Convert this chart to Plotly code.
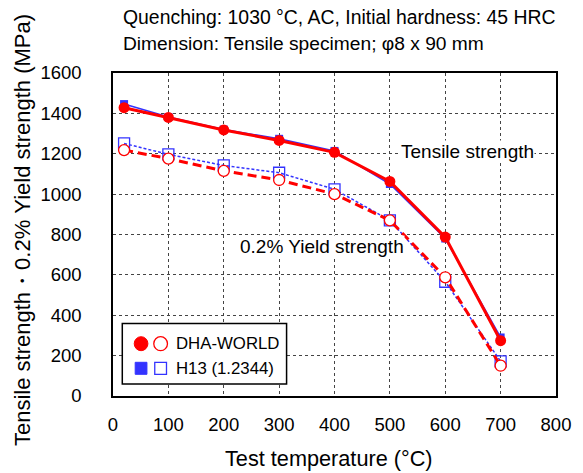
import plotly.graph_objects as go

temps = [20, 100, 200, 300, 400, 500, 600, 700]
dha_tensile = [1428, 1380, 1318, 1266, 1207, 1063, 787, 274]
h13_tensile = [1446, 1382, 1320, 1274, 1214, 1050, 780, 290]
dha_yield = [1218, 1176, 1115, 1070, 1000, 870, 588, 150]
h13_yield = [1251, 1197, 1142, 1106, 1024, 870, 566, 172]

x_ticks = [0, 100, 200, 300, 400, 500, 600, 700, 800]
y_ticks = [0, 200, 400, 600, 800, 1000, 1200, 1400, 1600]

RED = "#FF0000"
BLUE = "#3333FF"
FONT = "Liberation Sans, Arial, sans-serif"

fig = go.Figure()

fig.add_trace(go.Scatter(x=temps, y=h13_yield, mode="lines+markers",
                         line=dict(color=BLUE, width=1.5, dash="3px,2px"),
                         marker=dict(symbol="square-open", size=11, color=BLUE, line=dict(width=1.3)),
                         showlegend=False))
fig.add_trace(go.Scatter(x=temps, y=dha_yield, mode="lines+markers",
                         line=dict(color=RED, width=3, dash="9px,5px"),
                         marker=dict(symbol="circle", size=11, color="white", line=dict(color=RED, width=1.3)),
                         showlegend=False))
fig.add_trace(go.Scatter(x=temps, y=h13_tensile, mode="lines+markers",
                         line=dict(color=BLUE, width=1.5),
                         marker=dict(symbol="square", size=8, color=BLUE),
                         showlegend=False))
fig.add_trace(go.Scatter(x=temps, y=dha_tensile, mode="lines+markers",
                         line=dict(color=RED, width=3),
                         marker=dict(symbol="circle", size=11, color=RED),
                         showlegend=False))

W, H = 583, 473
ML, MR, MT, MB = 113, 17, 73, 77
PW, PH = W - ML - MR, H - MT - MB


def px(x):
    return (x - ML) / PW


def py(y):
    return (H - MB - y) / PH


shapes = []
# legend box
shapes.append(dict(type="rect", xref="paper", yref="paper",
                   x0=px(122.5), x1=px(290.5), y0=py(384), y1=py(323.5),
                   line=dict(color="black", width=1.5), fillcolor="white", layer="above"))
# legend markers
r = 7
shapes.append(dict(type="circle", xref="paper", yref="paper",
                   x0=px(141.7 - r), x1=px(141.7 + r), y0=py(343.7 + r), y1=py(343.7 - r),
                   line=dict(color=RED, width=1), fillcolor=RED, layer="above"))
shapes.append(dict(type="circle", xref="paper", yref="paper",
                   x0=px(161.7 - r), x1=px(161.7 + r), y0=py(343.7 + r), y1=py(343.7 - r),
                   line=dict(color=RED, width=1.3), fillcolor="white", layer="above"))
s = 6
shapes.append(dict(type="rect", xref="paper", yref="paper",
                   x0=px(141.7 - s), x1=px(141.7 + s), y0=py(368.3 + s), y1=py(368.3 - s),
                   line=dict(color=BLUE, width=1), fillcolor=BLUE, layer="above"))
shapes.append(dict(type="rect", xref="paper", yref="paper",
                   x0=px(161.7 - s), x1=px(161.7 + s), y0=py(368.3 + s), y1=py(368.3 - s),
                   line=dict(color=BLUE, width=1.3), fillcolor="white", layer="above"))

annotations = [
    dict(text="Quenching: 1030 °C, AC, Initial hardness: 45 HRC", xref="paper", yref="paper",
         x=px(121), y=py(17), xanchor="left", yanchor="middle", showarrow=False,
         font=dict(size=19.4, color="black", family=FONT)),
    dict(text="Dimension: Tensile specimen; φ8 x 90 mm", xref="paper", yref="paper",
         x=px(121), y=py(43), xanchor="left", yanchor="middle", showarrow=False,
         font=dict(size=19.2, color="black", family=FONT)),
    dict(text="Tensile strength", x=640, y=1213, xref="x", yref="y", showarrow=False,
         font=dict(size=19, color="black", family=FONT), bgcolor="white", borderpad=0),
    dict(text="0.2% Yield strength", x=377, y=739, xref="x", yref="y", showarrow=False,
         font=dict(size=19, color="black", family=FONT), bgcolor="white", borderpad=0),
    dict(text="DHA-WORLD", xref="paper", yref="paper", x=px(175), y=py(343.7),
         xanchor="left", yanchor="middle", showarrow=False,
         font=dict(size=16.8, color="black", family=FONT)),
    dict(text="H13 (1.2344)", xref="paper", yref="paper", x=px(175), y=py(368.3),
         xanchor="left", yanchor="middle", showarrow=False,
         font=dict(size=16.8, color="black", family=FONT)),
    dict(text="Test temperature (°C)", xref="paper", yref="paper", x=px(334), y=py(458),
         xanchor="center", yanchor="middle", showarrow=False,
         font=dict(size=21.7, color="black", family=FONT)),
    dict(text="Tensile strength・0.2% Yield strength (MPa)", xref="paper", yref="paper",
         x=px(21), y=py(230), xanchor="center", yanchor="middle", showarrow=False, textangle=-90,
         font=dict(size=22, color="black", family=FONT)),
]

fig.update_layout(
    width=W, height=H,
    margin=dict(l=ML, r=MR, t=MT, b=MB),
    paper_bgcolor="white", plot_bgcolor="white",
    font=dict(family=FONT, size=18.5, color="black"),
    shapes=shapes, annotations=annotations,
    showlegend=False,
)
fig.update_xaxes(range=[0, 800], tickvals=x_ticks, ticktext=[str(v) for v in x_ticks],
                 showgrid=True, gridcolor="#444444", griddash="dot", gridwidth=1,
                 showline=True, linecolor="black", linewidth=1.5, mirror=True,
                 ticks="", ticklabelstandoff=11, zeroline=False,
                 tickfont=dict(size=18.5, family=FONT, color="black"))
fig.update_yaxes(range=[0, 1600], tickvals=y_ticks, ticktext=[str(v) for v in y_ticks],
                 showgrid=True, gridcolor="#444444", griddash="dot", gridwidth=1,
                 showline=True, linecolor="black", linewidth=1.5, mirror=True,
                 ticks="", ticklabelstandoff=26, zeroline=False,
                 tickfont=dict(size=18.5, family=FONT, color="black"))

fig.write_html("out.html")
